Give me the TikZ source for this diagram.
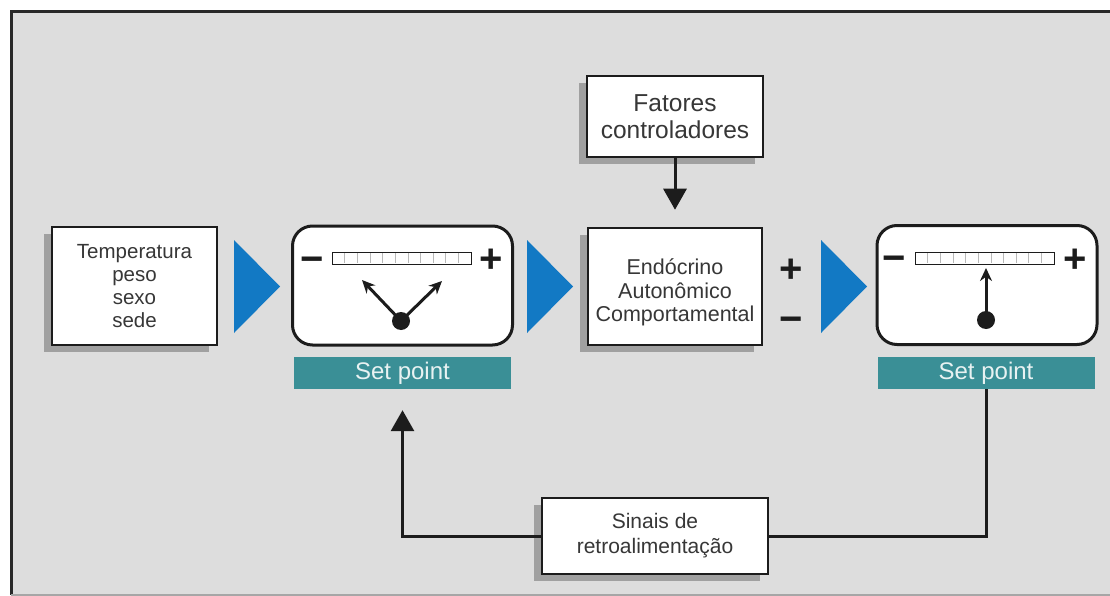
\documentclass[tikz,border=0pt]{standalone}
\usepackage{fontspec}
\setmainfont{Liberation Sans}
\usetikzlibrary{arrows.meta,shadows}

\definecolor{bggray}{RGB}{221,221,221}
\definecolor{framegray}{RGB}{40,40,40}
\definecolor{boxline}{RGB}{28,28,28}
\definecolor{txtgray}{RGB}{55,55,55}
\definecolor{shadowgray}{RGB}{160,160,160}
\definecolor{arrowblue}{RGB}{18,121,196}
\definecolor{setteal}{RGB}{58,143,150}
\definecolor{setwhite}{RGB}{232,242,242}

\begin{document}
\begin{tikzpicture}[
    x=1pt, y=-1pt,
    >={Triangle[length=21pt,width=23pt]},
    infobox/.style={
        draw=boxline,
        line width=2.5pt,
        fill=white,
        text=txtgray,
        align=center,
        general shadow={fill=shadowgray, shadow xshift=-8pt, shadow yshift=-7pt}
    },
    gaugebox/.style={
        draw=boxline,
        line width=3pt,
        fill=white,
        rounded corners=20pt,
        minimum width=220pt,
        minimum height=119pt
    },
    setlabel/.style={
        fill=setteal,
        text=setwhite,
        minimum width=217pt,
        minimum height=32pt,
        font=\fontsize{24}{24}\selectfont
    },
    flowline/.style={
        draw=boxline,
        line width=3pt
    },
    sign/.style={
        font=\fontsize{40}{40}\selectfont\bfseries,
        text=boxline,
        inner sep=0pt,
        anchor=base
    },
    needle/.style={
        draw=boxline,
        line width=3pt,
        -{Stealth[length=13pt,width=12pt]}
    },
    pivot/.style={
        circle,
        fill=boxline,
        minimum size=18pt,
        inner sep=0pt
    }
]

\useasboundingbox (0,0) rectangle (1110,596);

% ============ BACKGROUND ============
\fill[white] (0,0) rectangle (1110,596);
\fill[bggray] (11,11) rectangle (1110,594);
\draw[framegray, line width=3pt] (1112,11.5) -- (11.5,11.5) -- (11.5,595);
\draw[gray!70, line width=2pt] (11,595) -- (1112,595);

% ============ BOXES ============
\node[infobox, minimum width=165pt, minimum height=118pt,
      font=\fontsize{20.5}{23}\selectfont] (inputs) at (134.5,286) {Temperatura\\peso\\sexo\\sede};

\node[gaugebox] (gaugeA) at (402.5,285.5) {};
\node[setlabel] (setA) at (402.5,373) {Set point};

\node[infobox, minimum width=176pt, minimum height=81pt,
      font=\fontsize{24.5}{27}\selectfont] (control) at (675,116.5) {Fatores\\controladores};

% text sits a little below the middle of this box
\node[infobox, minimum width=174pt, minimum height=117pt,
      label={[text=txtgray, align=center, yshift=-6pt,
              font=\fontsize{21.5}{23.5}\selectfont]center:Endócrino\\Autonômico\\Comportamental}] (effector) at (675,286.5) {};

\node[sign] (plus) at (791,282) {+};
\node[sign] (minus) at (791,332) {−};

\node[gaugebox] (gaugeB) at (987,285) {};
\node[setlabel] (setB) at (986,373) {Set point};

\node[infobox, minimum width=226pt, minimum height=76pt,
      font=\fontsize{21}{25}\selectfont] (feedback) at (655,536) {Sinais de\\retroalimentação};

% ============ BLUE ARROWS ============
\foreach \tx in {234, 527, 821} {
    \fill[arrowblue] (\tx,240) -- (\tx+46,286.5) -- (\tx,333) -- cycle;
}

% ============ GAUGES ============
\def\barwidth{139}
\foreach \gx in {332, 915} {
    \fill[white] (\gx,252) rectangle +(\barwidth,12);
    \foreach \k in {1,...,10} {
        \draw[gray!55, line width=0.6pt] (\gx+\k*\barwidth/11,253) -- (\gx+\k*\barwidth/11,263);
    }
    \draw[boxline, line width=1pt] (\gx,252) rectangle +(\barwidth,12);
}
\node[sign] (minusA) at (312,272) {−};
\node[sign] (plusA) at (491,272) {+};
\node[sign] (minusB) at (894,271) {−};
\node[sign] (plusB) at (1075,272) {+};

% needle of the first gauge
\node[pivot] (pivotA) at (401,321) {};
\coordinate (lowA) at (362,280);
\coordinate (highA) at (442,281);
\draw[needle] (pivotA.center) -- (lowA);
\draw[needle] (pivotA.center) -- (highA);

% needle of the second gauge
\node[pivot] (pivotB) at (986,320) {};
\coordinate (markB) at (986,268);
\draw[needle] (pivotB.center) -- (markB);

% ============ CONNECTORS ============
\draw[flowline, ->, shorten >=17pt] (control) -- (effector);
\draw[flowline, ->, shorten >=21pt] (feedback.west) -| (setA.south);
\draw[flowline] (feedback.east) -| (setB.south);

\end{tikzpicture}
\end{document}
